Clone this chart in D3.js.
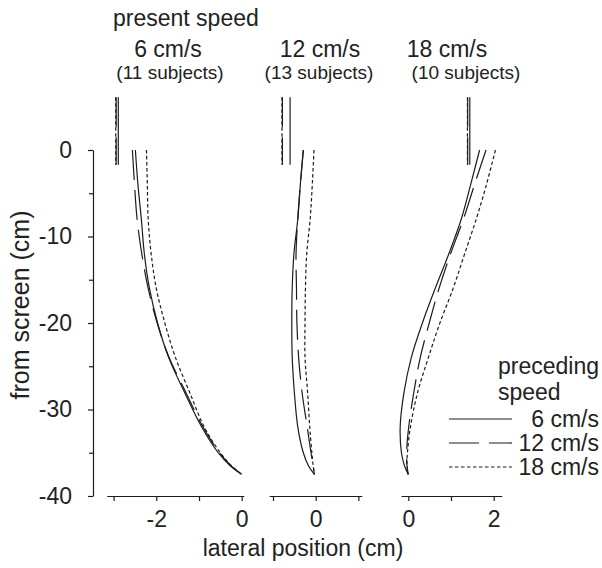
<!DOCTYPE html>
<html>
<head>
<meta charset="utf-8">
<script src="https://cdn.jsdelivr.net/npm/d3@7"></script>
<style>
  html, body { margin: 0; padding: 0; background: #fff; }
  svg { display: block; }
  text { font-family: "Liberation Sans", Arial, Helvetica, sans-serif; fill: #222; }
</style>
</head>
<body>
<svg id="chart" width="602" height="568"></svg>
<script>
// Present speed panels
const presentSpeeds = ["6 cm/s", "12 cm/s", "18 cm/s"];
const subjectCounts = ["(11 subjects)", "(13 subjects)", "(10 subjects)"];

// Preceding speed series (legend)
const precedingSpeeds = ["6 cm/s", "12 cm/s", "18 cm/s"];

// Distance from screen (cm) at which lateral positions are sampled
const depth = [0, -4, -8, -12, -16, -20, -24, -28, -32, -35, -36.5, -37.5];

// Lateral position (cm), present 6 cm/s
const p6_prev6  = [-2.49, -2.43, -2.35, -2.28, -2.16, -1.97, -1.71, -1.34, -0.94, -0.55, -0.27, 0];
const p6_prev12 = [-2.56, -2.51, -2.45, -2.34, -2.19, -1.98, -1.70, -1.31, -0.91, -0.52, -0.25, 0];
const p6_prev18 = [-2.23, -2.21, -2.19, -2.12, -2.00, -1.80, -1.55, -1.22, -0.88, -0.50, -0.24, 0];

// Lateral position (cm), present 12 cm/s
const p12_prev6  = [-0.29, -0.36, -0.42, -0.51, -0.55, -0.56, -0.55, -0.50, -0.42, -0.29, -0.17, -0.03];
const p12_prev12 = [-0.29, -0.36, -0.42, -0.46, -0.45, -0.44, -0.40, -0.32, -0.20, -0.11, -0.06, -0.03];
const p12_prev18 = [-0.04, -0.08, -0.13, -0.21, -0.24, -0.25, -0.25, -0.19, -0.14, -0.09, -0.06, -0.03];

// Lateral position (cm), present 18 cm/s
const p18_prev6  = [1.67, 1.46, 1.24, 0.95, 0.63, 0.33, 0.07, -0.10, -0.19, -0.16, -0.09, 0];
const p18_prev12 = [1.82, 1.55, 1.29, 0.99, 0.72, 0.49, 0.28, 0.13, 0.01, -0.04, -0.03, 0];
const p18_prev18 = [2.04, 1.83, 1.59, 1.32, 1.05, 0.74, 0.47, 0.22, 0.05, -0.02, -0.03, 0];

// Stimulus position shown on the screen before movement (vertical marks)
const markDepth = [6.1, -1.7];
const mark6  = [-2.89, -2.94, -2.95];
const mark12 = [-0.60, -0.78, -0.79];
const mark18 = [1.44, 1.39, 1.385];

// Axis ticks
const yMajorTicks = [0, -10, -20, -30, -40];
const yMinorTicks = [-5, -15, -25, -35];
const xDomains = [[-3.16, 0.05], [-1.09, 1.08], [-0.17, 2.19]];
const xTicks = [[-3, -2, -1, 0], [-1, 0, 1], [0, 1, 2]];
const xTickLabels = [[-2, 0], [0], [0, 2]];

const panelSeries = [
  [p6_prev6, p6_prev12, p6_prev18],
  [p12_prev6, p12_prev12, p12_prev18],
  [p18_prev6, p18_prev12, p18_prev18]
];
const panelMarks = [mark6, mark12, mark18];

// ---- drawing ----
const svg = d3.select("#chart");
const ink = "#1c1c1c";
const dashes = [null, "30,10", "3.5,2.5"];
const lw = 1.2;
const fs = 23;

const y = d3.scaleLinear().domain([0, -40]).range([150, 496]);
const zeroPx = [241.7, 315.7, 408.3];
const pxPerCm = 42.7;

// Y axis
const yAxis = svg.append("g").attr("transform", "translate(93,0)")
  .call(d3.axisLeft(y).tickValues(yMajorTicks).tickSize(5).tickPadding(16).tickSizeOuter(0));
yAxis.select(".domain").attr("stroke", ink).attr("stroke-width", lw);
yAxis.selectAll(".tick line").attr("stroke", ink).attr("stroke-width", lw);
yAxis.selectAll(".tick text").attr("font-size", fs).attr("fill", "#222")
  .attr("font-family", "Liberation Sans, Arial, sans-serif").text(d => String(d));
const yMinor = svg.append("g").attr("transform", "translate(93,0)")
  .call(d3.axisLeft(y).tickValues(yMinorTicks).tickSize(4).tickFormat(""));
yMinor.select(".domain").remove();
yMinor.selectAll(".tick line").attr("stroke", ink).attr("stroke-width", lw);

svg.append("text")
  .attr("transform", "translate(29,305) rotate(-90)")
  .attr("text-anchor", "middle")
  .attr("font-size", 25)
  .text("from screen (cm)");

// Panels
presentSpeeds.forEach((sp, i) => {
  const dom = xDomains[i];
  const x = d3.scaleLinear().domain(dom)
    .range([zeroPx[i] + dom[0] * pxPerCm, zeroPx[i] + dom[1] * pxPerCm]);

  const ax = svg.append("g").attr("transform", "translate(0,496)")
    .call(d3.axisBottom(x).tickValues(xTicks[i]).tickSize(5).tickPadding(10).tickSizeOuter(0)
      .tickFormat(d => xTickLabels[i].includes(d) ? String(d) : ""));
  ax.select(".domain").attr("stroke", ink).attr("stroke-width", lw);
  ax.selectAll(".tick line").attr("stroke", ink).attr("stroke-width", lw);
  ax.selectAll(".tick text").attr("font-size", fs).attr("fill", "#222")
    .attr("font-family", "Liberation Sans, Arial, sans-serif");

  const line = d3.line()
    .x(d => x(d[1]))
    .y(d => y(d[0]))
    .curve(d3.curveCatmullRom.alpha(0.5));

  panelSeries[i].forEach((vals, s) => {
    svg.append("path")
      .datum(depth.map((dv, k) => [dv, vals[k]]))
      .attr("d", line)
      .attr("fill", "none")
      .attr("stroke", ink)
      .attr("stroke-width", lw)
      .attr("stroke-dasharray", dashes[s]);
  });

  panelMarks[i].forEach((mx, s) => {
    svg.append("path")
      .datum(markDepth.map(dv => [dv, mx]))
      .attr("d", d3.line().x(d => x(d[1])).y(d => y(d[0])))
      .attr("fill", "none")
      .attr("stroke", ink)
      .attr("stroke-width", lw)
      .attr("stroke-dasharray", dashes[s]);
  });
});

// Panel titles
const titleX = [168, 320, 447];
const subX = [170, 319, 466];
svg.append("text").attr("x", 113).attr("y", 26).attr("font-size", fs).text("present speed");
presentSpeeds.forEach((sp, i) => {
  svg.append("text").attr("x", titleX[i]).attr("y", 57).attr("text-anchor", "middle")
    .attr("font-size", fs).text(sp);
  svg.append("text").attr("x", subX[i]).attr("y", 79).attr("text-anchor", "middle")
    .attr("font-size", 19).text(subjectCounts[i]);
});

// X label
svg.append("text").attr("x", 303).attr("y", 556).attr("text-anchor", "middle")
  .attr("font-size", fs).text("lateral position (cm)");

// Legend
svg.append("text").attr("x", 498).attr("y", 374).attr("font-size", fs).text("preceding");
svg.append("text").attr("x", 498).attr("y", 400).attr("font-size", fs).text("speed");
const legY = [419, 443, 467];
precedingSpeeds.forEach((sp, s) => {
  svg.append("line").attr("x1", 449).attr("x2", 512).attr("y1", legY[s]).attr("y2", legY[s])
    .attr("stroke", ink).attr("stroke-width", lw).attr("stroke-dasharray", dashes[s]);
  svg.append("text").attr("x", 599).attr("y", legY[s] + 7.5).attr("text-anchor", "end")
    .attr("font-size", fs).text(sp);
});
</script>
</body>
</html>
